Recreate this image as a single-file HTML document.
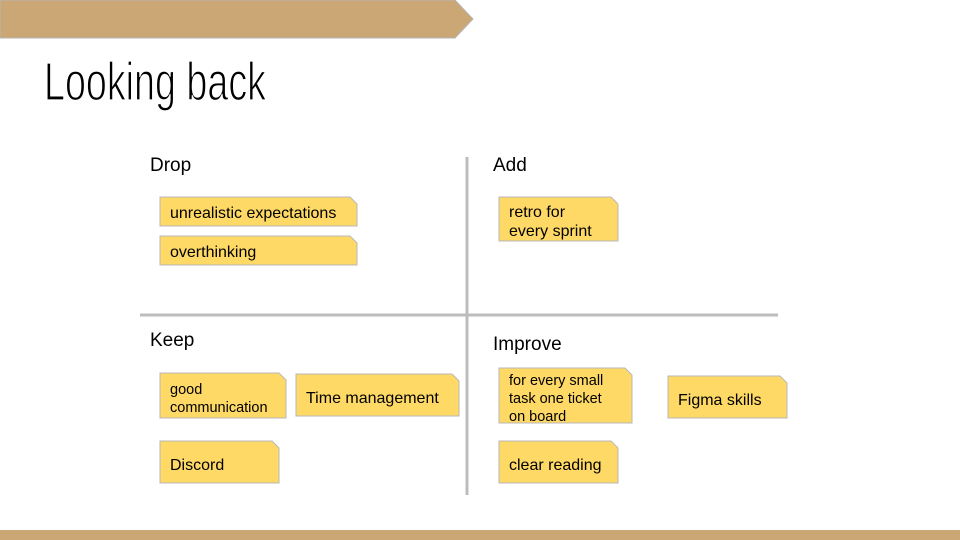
<!DOCTYPE html>
<html><head><meta charset="utf-8"><style>
html,body{margin:0;padding:0;background:#fff;}
svg{display:block}
text{font-family:"Liberation Sans",Arial,sans-serif;fill:#000}
</style></head><body>
<svg width="960" height="540" viewBox="0 0 960 540" xmlns="http://www.w3.org/2000/svg">
<rect width="960" height="540" fill="#fff"/>
<polygon points="0,0 455,0 473,19 455,38 0,38" fill="#cca776" stroke="#b5b5b5" stroke-width="1"/>
<rect x="0" y="530" width="960" height="10" fill="#cca776"/>
<text x="44" y="100" font-size="54" textLength="222" lengthAdjust="spacingAndGlyphs" style="stroke:#fff;stroke-width:1.3;paint-order:normal">Looking back</text>
<line x1="467" y1="157" x2="467" y2="495" stroke="#bcbcbc" stroke-width="3"/>
<line x1="140" y1="315" x2="778" y2="315" stroke="#bcbcbc" stroke-width="3"/>
<g font-size="19">
<text x="150" y="171">Drop</text>
<text x="493" y="171">Add</text>
<text x="150" y="346">Keep</text>
<text x="493" y="350">Improve</text>
</g>
<g fill="#fed966" stroke="#b8b8b8" stroke-width="1">
<polygon points="160,197 350,197 357,204 357,226 160,226"/>
<polygon points="160,236 350,236 357,243 357,265 160,265"/>
<polygon points="499,197 611,197 618,204 618,241 499,241"/>
<polygon points="160,373 279,373 286,380 286,418 160,418"/>
<polygon points="296,374 452,374 459,381 459,416 296,416"/>
<polygon points="160,441 272,441 279,448 279,483 160,483"/>
<polygon points="499,368 625,368 632,375 632,423 499,423"/>
<polygon points="668,376 780,376 787,383 787,418 668,418"/>
<polygon points="499,441 611,441 618,448 618,483 499,483"/>
</g>
<g font-size="16">
<text x="170" y="218">unrealistic expectations</text>
<text x="170" y="257">overthinking</text>
<text x="509" y="217">retro for</text>
<text x="509" y="236">every sprint</text>
<text x="170" y="394" font-size="14.5">good</text>
<text x="170" y="412" font-size="14.5">communication</text>
<text x="306" y="403">Time management</text>
<text x="170" y="470">Discord</text>
<text x="509" y="385" font-size="14.5">for every small</text>
<text x="509" y="403" font-size="14.5">task one ticket</text>
<text x="509" y="421" font-size="14.5">on board</text>
<text x="678" y="405">Figma skills</text>
<text x="509" y="470">clear reading</text>
</g>
</svg>
</body></html>
